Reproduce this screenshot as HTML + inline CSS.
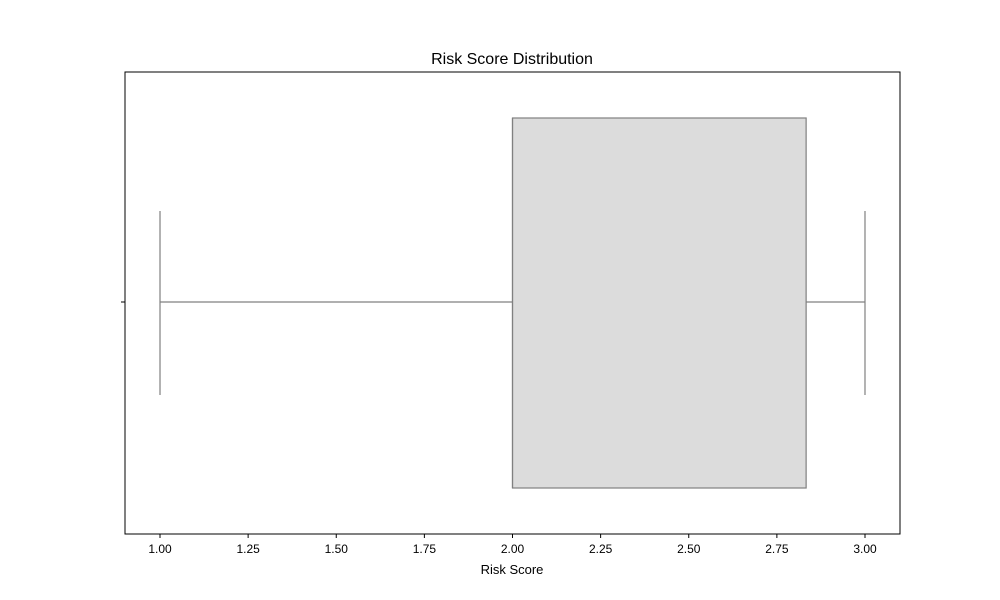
<!DOCTYPE html>
<html><head><meta charset="utf-8"><style>body{margin:0;background:#fff}svg{display:block;font-family:"Liberation Sans","DejaVu Sans",sans-serif}</style></head>
<body>
<svg id="chart" width="1000" height="600">
<rect x="0" y="0" width="1000" height="600" fill="#fff"/>
<text x="512" y="64" text-anchor="middle" font-size="16" fill="#000">Risk Score Distribution</text>
<g id="plot"></g>
<rect x="125" y="72" width="775" height="462" fill="none" stroke="#000" stroke-width="1"/>
<line x1="121" y1="302" x2="125" y2="302" stroke="#000"/>
<text x="512" y="574" text-anchor="middle" font-size="13" fill="#000">Risk Score</text>
</svg>
<script>
const ticks=[1.00,1.25,1.50,1.75,2.00,2.25,2.50,2.75,3.00];
const tickLabels=["1.00","1.25","1.50","1.75","2.00","2.25","2.50","2.75","3.00"];
const stats={min:1.0,q1:2.0,median:2.0,q3:2.833,max:3.0};
const xMin=0.9007,xMax=3.0993;
const L=125,R=900,cy=302;
function x(v){return L+(v-xMin)/(xMax-xMin)*(R-L);}
const ns="http://www.w3.org/2000/svg",g=document.getElementById('plot');
function el(t,a){const e=document.createElementNS(ns,t);for(const k in a)e.setAttribute(k,a[k]);g.appendChild(e);return e;}
const c="#808080";
let e;
e=el('line',{x1:x(stats.min),y1:cy,x2:x(stats.q1),y2:cy,stroke:c,'stroke-width':1.2});


e=el('line',{x1:x(stats.q3),y1:cy,x2:x(stats.max),y2:cy,stroke:c,'stroke-width':1.2});


e=el('line',{x1:x(stats.min),y1:211,x2:x(stats.min),y2:395,stroke:c,'stroke-width':1.2});


e=el('line',{x1:x(stats.max),y1:211,x2:x(stats.max),y2:395,stroke:c,'stroke-width':1.2});


e=el('rect',{x:x(stats.q1),y:118,width:x(stats.q3)-x(stats.q1),height:370,fill:"#dcdcdc",stroke:c,'stroke-width':1.2});


e=el('line',{x1:x(stats.median),y1:118,x2:x(stats.median),y2:488,stroke:c,'stroke-width':1.2});


ticks.forEach((t,i)=>{
 const tk=el('line',{x1:x(t),y1:534,x2:x(t),y2:538,stroke:"#000"});
 
 
 const tx=el('text',{x:x(t),y:553,'text-anchor':'middle','font-size':12,fill:'#000'});
 tx.textContent=tickLabels[i];
 
 
});
</script>
</body></html>
